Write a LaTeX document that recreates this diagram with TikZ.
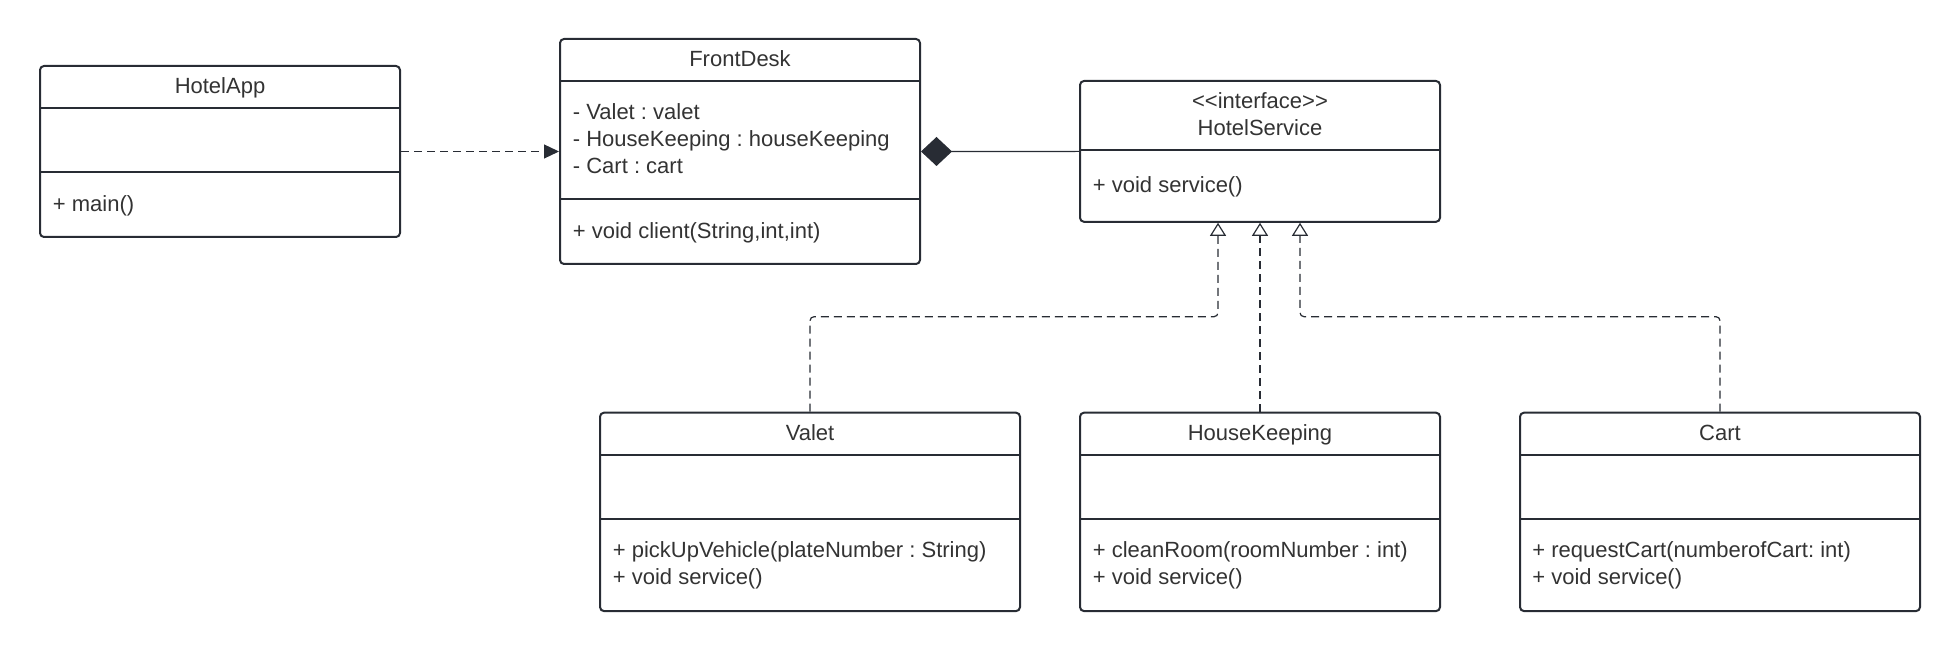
\documentclass[tikz,border=0pt]{standalone}
\usepackage{fontspec}
\setmainfont{Liberation Sans}
\usetikzlibrary{arrows.meta}
\frenchspacing

\definecolor{umlline}{RGB}{40,44,52}
\definecolor{umltext}{RGB}{51,51,51}

\tikzset{
  classbox/.style={draw=umlline, line width=1pt, rounded corners=2pt, inner sep=0pt},
  divider/.style={draw=umlline, line width=1pt},
  title/.style={text=umltext, font=\fontsize{11}{13.6}\selectfont, align=center, inner sep=0pt},
  onetitle/.style={title, text height=0.72em, text depth=0.2em},
  member/.style={text=umltext, font=\fontsize{11}{13.6}\selectfont, align=left, anchor=west, inner sep=0pt},
  depend/.style={draw=umlline, line width=0.6pt, dash pattern=on 4pt off 2.5pt, -{Triangle[length=7.5pt,width=7pt]}},
  realize/.style={draw=umlline, line width=0.6pt, dash pattern=on 4pt off 2.5pt, rounded corners=2pt, -{Triangle[open,length=6.5pt,width=8pt]}},
  compose/.style={draw=umlline, line width=0.6pt, {Diamond[length=15.5pt,width=14.5pt]}-},
}

\begin{document}
\begin{tikzpicture}[x=0.5pt,y=-0.5pt]
\useasboundingbox (0,0) rectangle (1960,652);

% class boxes
\node[classbox, minimum width=180pt, minimum height=85.5pt] (hotelapp) at (220,151.5) {};
\node[classbox, minimum width=180pt, minimum height=112.5pt] (frontdesk) at (740,151.5) {};
\node[classbox, minimum width=180pt, minimum height=70.4pt] (service) at (1260,151.4) {};
\node[classbox, minimum width=210pt, minimum height=99.2pt] (valet) at (810,511.9) {};
\node[classbox, minimum width=180pt, minimum height=99.2pt] (housekeeping) at (1260,511.9) {};
\node[classbox, minimum width=200pt, minimum height=99.2pt] (cart) at (1720,511.9) {};

% compartments
\draw[divider] ([yshift=-21.35pt]hotelapp.north west) -- ([yshift=-21.35pt]hotelapp.north east);
\draw[divider] ([yshift=-53.5pt]hotelapp.north west) -- ([yshift=-53.5pt]hotelapp.north east);
\draw[divider] ([yshift=-21.35pt]frontdesk.north west) -- ([yshift=-21.35pt]frontdesk.north east);
\draw[divider] ([yshift=-80.5pt]frontdesk.north west) -- ([yshift=-80.5pt]frontdesk.north east);
\draw[divider] ([yshift=-35pt]service.north west) -- ([yshift=-35pt]service.north east);
\foreach \c in {valet,housekeeping,cart}{
  \draw[divider] ([yshift=-21.5pt]\c.north west) -- ([yshift=-21.5pt]\c.north east);
  \draw[divider] ([yshift=-53.65pt]\c.north west) -- ([yshift=-53.65pt]\c.north east);
}

% texts
\node[onetitle] (hotelappName) at (220,88.5) {HotelApp};
\node[member] (hotelappOps) at (52.5,205.5) {+ main()};

\node[onetitle] (frontdeskName) at (740,61.5) {FrontDesk};
\node[member] (frontdeskAttr) at (572.5,138.5) {- Valet : valet\\- HouseKeeping : houseKeeping\\- Cart : cart};
\node[member] (frontdeskOps) at (572.5,232.5) {+ void client(String,int,int)};

\node[title] (serviceName) at (1260,114) {<{}<interface>{}>\\HotelService};
\node[member] (serviceOps) at (1092.5,186.5) {+ void service()};

\node[onetitle] (valetName) at (810,435.5) {Valet};
\node[member] (valetOps) at (612.5,565) {+ pickUpVehicle(plateNumber : String)\\+ void service()};

\node[onetitle] (housekeepingName) at (1260,435.5) {HouseKeeping};
\node[member] (housekeepingOps) at (1092.5,565) {+ cleanRoom(roomNumber : int)\\+ void service()};

\node[onetitle] (cartName) at (1720,435.5) {Cart};
\node[member] (cartOps) at (1532,565) {+ requestCart(numberofCart: int)\\+ void service()};

% connectors
\draw[depend] (hotelapp.east) -- (frontdesk.west);
\draw[compose] (frontdesk.east) -- (service.west);

\coordinate (bend) at (0,316.7);
\coordinate (svcL) at ([xshift=-21pt]service.south);
\coordinate (svcR) at ([xshift=20pt]service.south);
\draw[realize] (valet.north) |- (bend -| svcL) -- (svcL);
\draw[realize] (housekeeping.north) -- (service.south);
\draw[realize] (cart.north) |- (bend -| svcR) -- (svcR);
\end{tikzpicture}
\end{document}
